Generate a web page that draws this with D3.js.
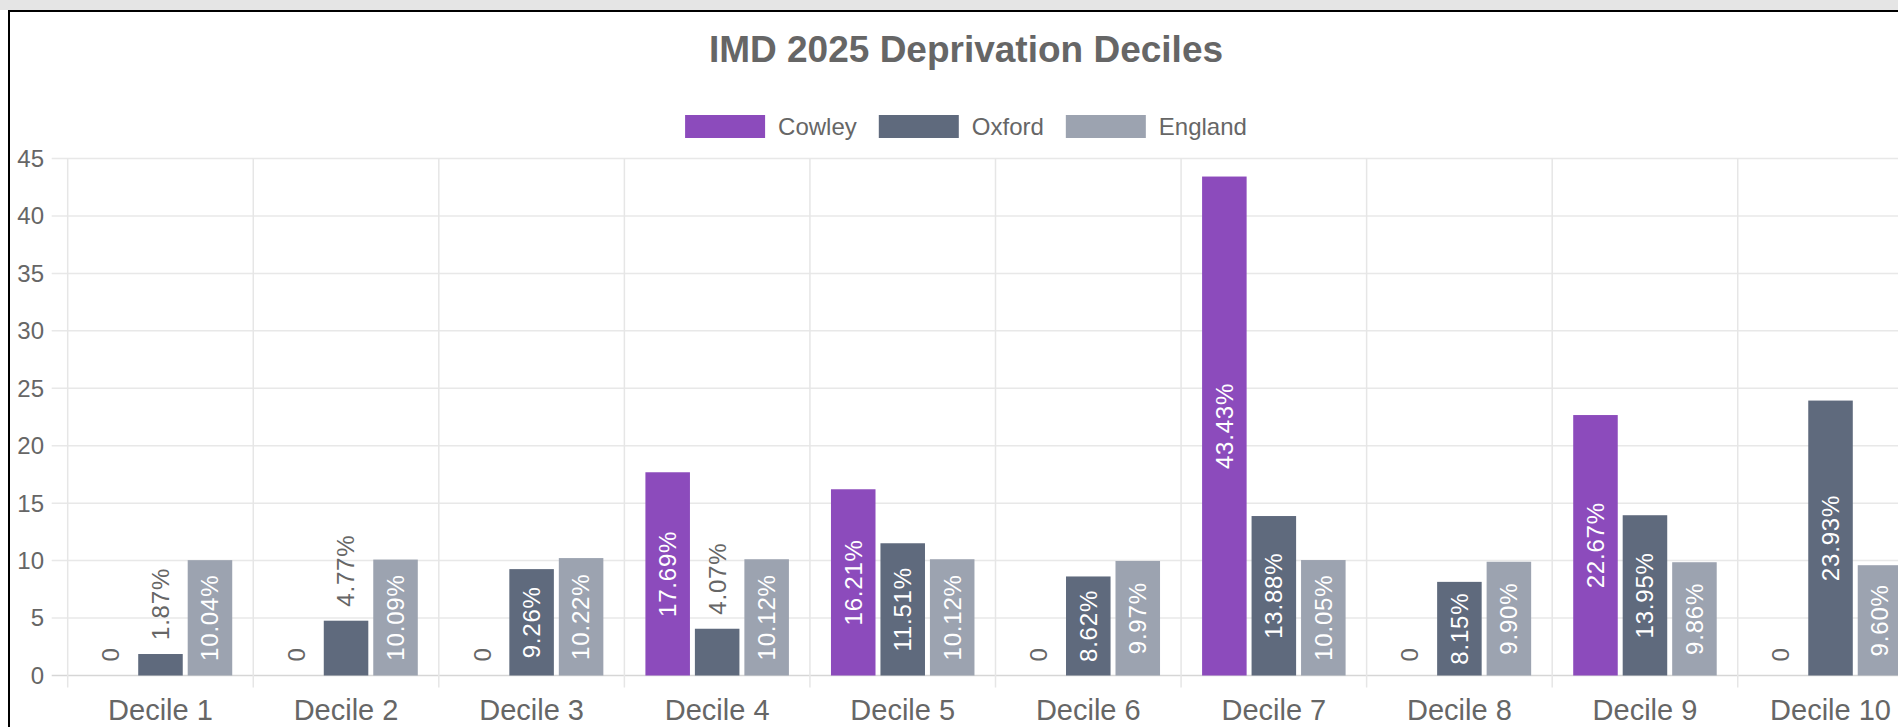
<!DOCTYPE html>
<html>
<head>
<meta charset="utf-8">
<script src="https://cdn.jsdelivr.net/npm/d3@7"></script>
<style>
  html, body { margin: 0; padding: 0; background: #ffffff; overflow: hidden; }
  svg { display: block; font-family: "Liberation Sans", Arial, Helvetica, sans-serif; }
</style>
</head>
<body>
<svg id="chart" width="1898" height="727"></svg>
<script>
const title = "IMD 2025 Deprivation Deciles";
const categories = ["Decile 1","Decile 2","Decile 3","Decile 4","Decile 5","Decile 6","Decile 7","Decile 8","Decile 9","Decile 10"];
const seriesNames = ["Cowley","Oxford","England"];
const seriesColors = ["#8c4bbc","#5f6a7d","#9ca3b0"];
const cowley  = [0, 0, 0, 17.69, 16.21, 0, 43.43, 0, 22.67, 0];
const oxford  = [1.87, 4.77, 9.26, 4.07, 11.51, 8.62, 13.88, 8.15, 13.95, 23.93];
const england = [10.04, 10.09, 10.22, 10.12, 10.12, 9.97, 10.05, 9.90, 9.86, 9.60];
const yTicks = [0, 5, 10, 15, 20, 25, 30, 35, 40, 45];

const seriesValues = [cowley, oxford, england];

const svg = d3.select("#chart");
const W = 1898, H = 727;

// page frame
svg.append("rect").attr("x",0).attr("y",0).attr("width",W).attr("height",10).attr("fill","#e5e5e5");
svg.append("rect").attr("x",8).attr("y",10).attr("width",W).attr("height",2).attr("fill","#000");
svg.append("rect").attr("x",8).attr("y",10).attr("width",2).attr("height",H).attr("fill","#000");

const plot = {left: 67.7, right: 1923.3, top: 158.5, bottom: 675.5};
const centerX = 966;

const x = d3.scaleBand().domain(categories).range([plot.left, plot.right]).paddingInner(0).paddingOuter(0);
const bw = x.bandwidth();
const x1 = d3.scaleBand().domain(seriesNames).range([0.1*bw, 0.9*bw]);
const y = d3.scaleLinear().domain([0,45]).range([plot.bottom, plot.top]);

// horizontal gridlines
const gGrid = svg.append("g");
gGrid.selectAll("line.h").data(yTicks).join("line")
  .attr("x1", plot.left - 16).attr("x2", W)
  .attr("y1", d => y(d)).attr("y2", d => y(d))
  .attr("stroke", d => d === 0 ? "#d6d6d6" : "#e8e8e8").attr("stroke-width", 1.5);

// vertical gridlines at category boundaries
const bounds = categories.map(c => x(c)).concat([plot.right]);
gGrid.selectAll("line.v").data(bounds).join("line")
  .attr("x1", d => d).attr("x2", d => d)
  .attr("y1", plot.top).attr("y2", plot.bottom + 12)
  .attr("stroke", "#e6e6e6").attr("stroke-width", 1.5);

// y axis labels
svg.append("g").selectAll("text").data(yTicks).join("text")
  .attr("x", 44).attr("y", d => y(d))
  .attr("dy", "0.35em").attr("text-anchor","end")
  .attr("font-size", 24).attr("fill", "#666")
  .text(d => d);

// x axis labels
svg.append("g").selectAll("text").data(categories).join("text")
  .attr("x", d => x(d) + bw/2).attr("y", 720)
  .attr("text-anchor","middle")
  .attr("font-size", 29).attr("fill", "#666")
  .text(d => d);

// bars
const barW = x1.bandwidth() * 0.9;
const barData = [];
seriesNames.forEach((s, si) => {
  seriesValues[si].forEach((v, ci) => {
    barData.push({s, si, c: categories[ci], v});
  });
});

svg.append("g").selectAll("rect").data(barData.filter(d => d.v > 0)).join("rect")
  .attr("x", d => x(d.c) + x1(d.s) + x1.bandwidth()*0.05)
  .attr("y", d => y(d.v))
  .attr("width", barW)
  .attr("height", d => y(0) - y(d.v))
  .attr("fill", d => seriesColors[d.si]);

// data labels (rotated)
const labelFont = 24;
const gLab = svg.append("g");
barData.forEach(d => {
  const cx = x(d.c) + x1(d.s) + x1.bandwidth()/2;
  const txt = d.v === 0 ? "0" : d.v.toFixed(2) + "%";
  const t = gLab.append("text")
    .attr("font-size", labelFont)
    .attr("letter-spacing", 0.8)
    .text(txt);
  const len = t.node().getComputedTextLength();
  const h = y(0) - y(d.v);
  if (d.v > 0 && h >= len + 8) {
    const cy = (y(d.v) + y(0)) / 2;
    t.attr("transform", `translate(${cx},${cy}) rotate(-90)`)
     .attr("text-anchor","middle").attr("dy","0.35em").attr("fill","#fff");
  } else {
    const by = y(d.v) - 14;
    t.attr("transform", `translate(${cx},${by}) rotate(-90)`)
     .attr("text-anchor","start").attr("dy","0.35em").attr("fill","#666");
  }
});

// title
svg.append("text").attr("x", centerX).attr("y", 62)
  .attr("text-anchor","middle").attr("font-size", 37).attr("font-weight","bold")
  .attr("fill","#666").text(title);

// legend
const boxW = 80, boxH = 23, gapBoxText = 13, gapItem = 22;
const gLeg = svg.append("g");
const items = seriesNames.map((s, i) => {
  const g = gLeg.append("g");
  g.append("rect").attr("width", boxW).attr("height", boxH).attr("y", 115).attr("fill", seriesColors[i]);
  const t = g.append("text").attr("x", boxW + gapBoxText).attr("y", 135)
    .attr("font-size", 24).attr("fill", "#666").text(s);
  return {g, w: boxW + gapBoxText + t.node().getComputedTextLength()};
});
const total = d3.sum(items, d => d.w) + gapItem * (items.length - 1);
let cur = centerX - total/2;
items.forEach(it => { it.g.attr("transform", `translate(${cur},0)`); cur += it.w + gapItem; });
</script>
</body>
</html>
